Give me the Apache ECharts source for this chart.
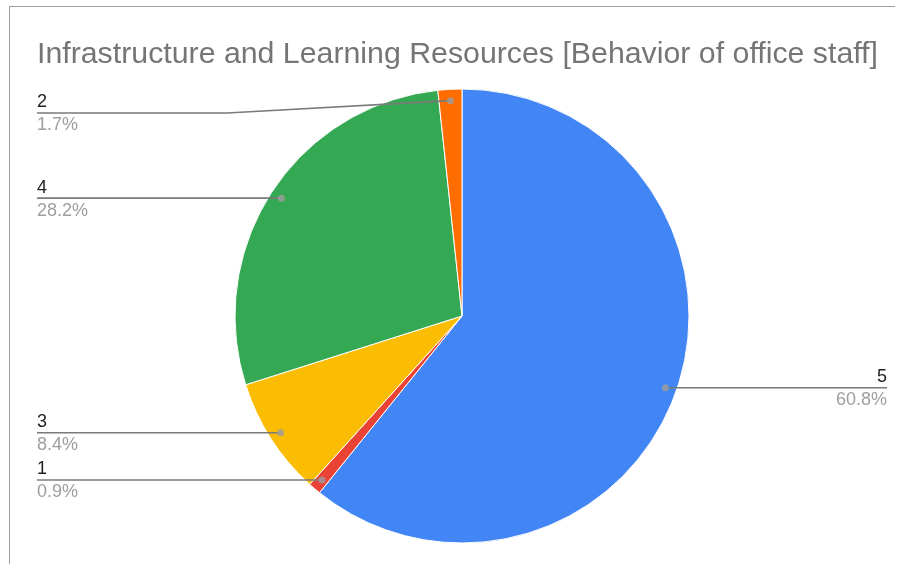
<!DOCTYPE html>
<html>
<head>
<meta charset="utf-8">
<script src="https://cdn.jsdelivr.net/npm/echarts@6/dist/echarts.min.js"></script>
<style>
html, body { margin: 0; padding: 0; background: #fff; }
#chart { width: 901px; height: 564px; }
</style>
</head>
<body>
<div id="chart"></div>
<script>
// data, in clockwise order from 12 o'clock
var categories = ['5', '1', '3', '4', '2'];
var shares = [60.8, 0.9, 8.4, 28.2, 1.7];
var sliceColors = ['#4285f4', '#ea4335', '#fbbc04', '#34a853', '#ff6d01'];

var CX = 462, CY = 316, R = 227;
var DOT_R = 0.95;        // dots sit near the rim
var LABEL_MIN_Y = 113;   // keep labels under the title
var NAME_LH = 21, PCT_LH = 25;
var FONT = 'Arial, "Liberation Sans", sans-serif';

document.addEventListener('DOMContentLoaded', function () {
    var chart = echarts.init(document.getElementById('chart'));

    var total = shares.reduce(function (a, b) { return a + b; }, 0);
    var pieData = categories.map(function (c, i) {
        return { name: c, value: shares[i], itemStyle: { color: sliceColors[i] } };
    });
    // the label layer: same slices, invisible, so its lines sit above the pie
    var labelData = categories.map(function (c, i) {
        return { name: c, value: shares[i] };
    });
    // dot positions on a polar axis matching the pie
    var dots = [];
    var acc = 0;
    shares.forEach(function (v) {
        dots.push([DOT_R, acc + v / 2]);
        acc += v;
    });

    var option = {
        animation: false,
        backgroundColor: '#fff',
        title: {
            text: 'Infrastructure and Learning Resources [Behavior of office staff]',
            left: 37,
            top: 40,
            padding: 0,
            textStyle: { fontFamily: FONT, fontSize: 30.3, fontWeight: 'normal', color: '#757575' }
        },
        graphic: [
            { type: 'line', shape: { x1: 9, y1: 6.5, x2: 895, y2: 6.5 }, style: { stroke: '#9e9e9e', lineWidth: 1 } },
            { type: 'line', shape: { x1: 9.5, y1: 6, x2: 9.5, y2: 564 }, style: { stroke: '#9e9e9e', lineWidth: 1 } }
        ],
        polar: { center: [CX, CY], radius: R },
        angleAxis: { type: 'value', min: 0, max: total, startAngle: 90, clockwise: true, show: false },
        radiusAxis: { type: 'value', min: 0, max: 1, show: false },
        series: [
            {
                type: 'pie',
                center: [CX, CY],
                radius: R,
                startAngle: 90,
                clockwise: true,
                silent: true,
                z: 2,
                itemStyle: { borderColor: '#fff', borderWidth: 1 },
                label: { show: false },
                labelLine: { show: false },
                data: pieData
            },
            {
                type: 'pie',
                center: [CX, CY],
                radius: R,
                startAngle: 90,
                clockwise: true,
                silent: true,
                z: 4,
                percentPrecision: 1,
                avoidLabelOverlap: false,
                itemStyle: { color: 'rgba(0,0,0,0)', borderWidth: 0 },
                data: labelData,
                label: {
                    position: 'outside',
                    formatter: '{n|{b}}\n{p|{d}%}',
                    rich: {
                        n: { fontFamily: FONT, fontSize: 18, color: '#222', lineHeight: NAME_LH },
                        p: { fontFamily: FONT, fontSize: 18, color: '#9e9e9e', lineHeight: PCT_LH }
                    }
                },
                labelLine: {
                    show: true,
                    length: 10,
                    length2: 10,
                    lineStyle: { color: '#7a7a7a', width: 1.6, opacity: 1 }
                },
                labelLayout: function (params) {
                    var p = params.labelLinePoints;
                    if (!p) return;
                    var dx = p[0][0] - CX, dy = p[0][1] - CY;
                    var len = Math.sqrt(dx * dx + dy * dy);
                    var dot = [CX + dx / len * R * DOT_R, CY + dy / len * R * DOT_R];
                    var left = dx < 0;
                    var y = Math.max(dot[1], LABEL_MIN_Y);
                    var edgeX = left ? 37 : 887;
                    var bendX = left ? Math.min(dot[0], 227) : Math.max(dot[0], 697);
                    return {
                        x: edgeX,
                        y: y + (PCT_LH - NAME_LH) / 2,
                        align: left ? 'left' : 'right',
                        verticalAlign: 'middle',
                        labelLinePoints: [dot, [bendX, y], [edgeX, y]]
                    };
                }
            },
            {
                type: 'scatter',
                coordinateSystem: 'polar',
                silent: true,
                symbol: 'circle',
                symbolSize: 7,
                itemStyle: { color: '#9e9e9e' },
                z: 6,
                data: dots
            }
        ]
    };
    chart.setOption(option);

    window.addEventListener('resize', function () {
        chart.resize();
    });
});
</script>
</body>
</html>
